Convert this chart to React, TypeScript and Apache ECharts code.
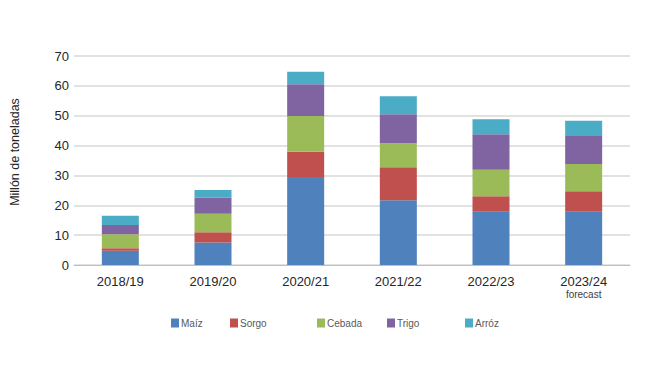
import React, { useEffect, useRef } from "react";
import * as echarts from "echarts";

const categories = ["2018/19", "2019/20", "2020/21", "2021/22", "2022/23", "2023/24"];
const maiz = [4.8, 7.5, 29.5, 21.7, 17.8, 17.8];
const sorgo = [0.8, 3.5, 8.4, 11.0, 5.2, 6.9];
const cebada = [4.7, 6.2, 12.0, 8.1, 8.9, 9.1];
const trigo = [3.1, 5.3, 10.6, 9.7, 11.9, 9.4];
const arroz = [3.1, 2.6, 4.2, 6.0, 5.0, 5.1];
const seriesNames = ["Maíz", "Sorgo", "Cebada", "Trigo", "Arróz"];
const colors = ["#4F81BD", "#C0504D", "#9BBB59", "#8064A2", "#4BACC6"];
const legendLefts = [171, 230, 317, 387, 465];
const yTitle = "Millón de toneladas";

export default function App() {
  const ref = useRef<HTMLDivElement>(null);
  useEffect(() => {
    if (!ref.current) return;
    const chart = echarts.init(ref.current, undefined, { renderer: "svg" });
    const values = [maiz, sorgo, cebada, trigo, arroz];
    const font = "Arial, 'Liberation Sans', sans-serif";
    chart.setOption({
      animation: false,
      textStyle: { fontFamily: font },
      color: colors,
      grid: { left: 74, right: 20, top: 56, bottom: 101 },
      graphic: [
        {
          type: "text",
          x: 15,
          y: 152,
          rotation: Math.PI / 2,
          style: {
            text: yTitle,
            fontSize: 12.5,
            fontFamily: font,
            fill: "#262626",
            align: "center",
            verticalAlign: "middle",
          },
        },
      ],
      legend: seriesNames.map((n, i) => ({
        data: [n],
        left: legendLefts[i],
        top: 318,
        padding: 0,
        itemWidth: 8,
        itemHeight: 9,
        icon: "rect",
        selectedMode: false,
        textStyle: { fontSize: 10, color: "#595959", fontFamily: font, padding: [0, 0, 0, -3] },
      })),
      xAxis: {
        type: "category",
        data: categories,
        axisLine: { lineStyle: { color: "#BFBFBF" } },
        axisTick: { show: false },
        axisLabel: {
          fontSize: 13,
          color: "#262626",
          margin: 10,
          formatter: (v: string) => (v === "2023/24" ? v + "\n{f|forecast}" : v),
          rich: { f: { fontSize: 10, color: "#404040", lineHeight: 12 } },
        },
      },
      yAxis: {
        type: "value",
        min: 0,
        max: 70,
        interval: 10,
        axisLine: { show: false },
        axisTick: { show: false },
        axisLabel: { fontSize: 13, color: "#262626", margin: 5 },
        splitLine: { lineStyle: { color: "#D9D9D9", width: 1.5 } },
      },
      series: seriesNames.map((n, i) => ({
        name: n,
        type: "bar",
        stack: "total",
        barWidth: 37,
        data: values[i],
        itemStyle: { color: colors[i] },
      })),
    });
    return () => chart.dispose();
  }, []);
  return <div ref={ref} style={{ width: 650, height: 366, position: "absolute", left: 0, top: 0 }} />;
}
